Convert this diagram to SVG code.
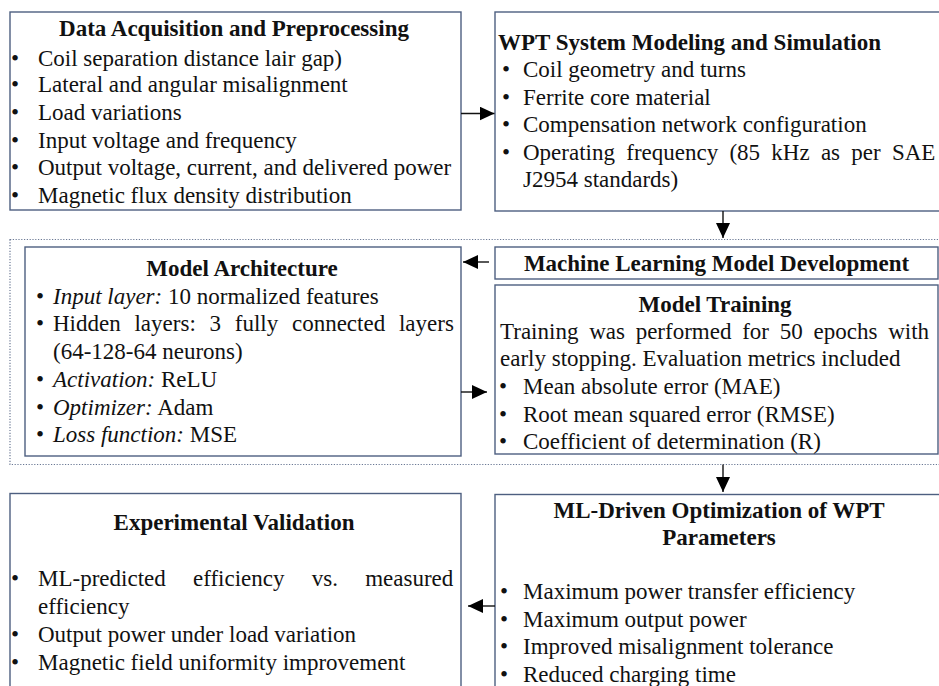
<svg xmlns="http://www.w3.org/2000/svg" width="939" height="686" viewBox="0 0 939 686">
  <style>
    .box { fill: #ffffff; stroke: #4d5f80; stroke-width: 1.4; }
    .group { fill: none; stroke: #6a7894; stroke-width: 1.2; stroke-dasharray: 1.2 1.6; }
    text { font-family: "Liberation Serif", "Times New Roman", serif; font-size: 23px; fill: #111111; }
    .h { font-weight: bold; }
    .c { text-anchor: middle; }
    .bul { text-anchor: middle; }
    .i { font-style: italic; }
    .wire { stroke: #111111; stroke-width: 1.4; fill: none; marker-end: url(#head); }
  </style>
  <defs>
    <marker id="head" markerUnits="userSpaceOnUse" markerWidth="15" markerHeight="14" refX="15" refY="7" orient="auto">
      <path d="M0,0 L15,7 L0,14 Z" fill="#000000"/>
    </marker>
  </defs>

  <rect width="939" height="686" fill="#ffffff"/>

  <!-- dotted frame around the model development stage -->
  <rect class="group" x="10" y="239.5" width="932" height="225"/>

  <g id="data-acquisition">
    <rect class="box" x="10" y="12" width="451" height="198"/>
    <text class="h c" x="234" y="36">Data Acquisition and Preprocessing</text>
    <text class="bul" x="15" y="66">•</text><text x="38" y="66">Coil separation distance lair gap)</text>
    <text class="bul" x="15" y="92">•</text><text x="38" y="92">Lateral and angular misalignment</text>
    <text class="bul" x="15" y="119.5">•</text><text x="38" y="119.5">Load variations</text>
    <text class="bul" x="15" y="147.5">•</text><text x="38" y="147.5">Input voltage and frequency</text>
    <text class="bul" x="15" y="175">•</text><text x="38" y="175">Output voltage, current, and delivered power</text>
    <text class="bul" x="15" y="203">•</text><text x="38" y="203">Magnetic flux density distribution</text>
  </g>

  <g id="wpt-modeling">
    <rect class="box" x="495" y="12" width="450" height="199"/>
    <text class="h" x="498" y="50">WPT System Modeling and Simulation</text>
    <text class="bul" x="506" y="77">•</text><text x="523" y="77">Coil geometry and turns</text>
    <text class="bul" x="506" y="104.5">•</text><text x="523" y="104.5">Ferrite core material</text>
    <text class="bul" x="506" y="132">•</text><text x="523" y="132">Compensation network configuration</text>
    <text class="bul" x="506" y="159.5">•</text><text x="523" y="159.5" word-spacing="5.5">Operating frequency (85 kHz as per SAE</text>
    <text x="523" y="187">J2954 standards)</text>
  </g>

  <g id="model-architecture">
    <rect class="box" x="25" y="247" width="436" height="209"/>
    <text class="h c" x="242" y="276">Model Architecture</text>
    <text class="bul" x="40" y="303.5">•</text><text x="53" y="303.5"><tspan class="i">Input layer:</tspan> 10 normalized features</text>
    <text class="bul" x="40" y="330.5">•</text><text x="53" y="330.5" word-spacing="8">Hidden layers: 3 fully connected layers</text>
    <text x="53" y="358.5">(64-128-64 neurons)</text>
    <text class="bul" x="40" y="387">•</text><text x="53" y="387"><tspan class="i">Activation:</tspan> ReLU</text>
    <text class="bul" x="40" y="415">•</text><text x="53" y="415"><tspan class="i">Optimizer:</tspan> Adam</text>
    <text class="bul" x="40" y="442">•</text><text x="53" y="442"><tspan class="i">Loss function:</tspan> MSE</text>
  </g>

  <g id="ml-development">
    <rect class="box" x="495" y="247" width="443" height="32"/>
    <text class="h c" x="716.5" y="271">Machine Learning Model Development</text>
  </g>

  <g id="model-training">
    <rect class="box" x="495" y="285" width="443" height="169"/>
    <text class="h c" x="715" y="312">Model Training</text>
    <text x="500" y="338.5" word-spacing="5">Training was performed for 50 epochs with</text>
    <text x="500" y="365.5">early stopping. Evaluation metrics included</text>
    <text class="bul" x="503" y="393.5">•</text><text x="523" y="393.5">Mean absolute error (MAE)</text>
    <text class="bul" x="503" y="421.5">•</text><text x="523" y="421.5">Root mean squared error (RMSE)</text>
    <text class="bul" x="503" y="449">•</text><text x="523" y="449">Coefficient of determination (R)</text>
  </g>

  <g id="experimental-validation">
    <rect class="box" x="10" y="493.5" width="451" height="200"/>
    <text class="h c" x="234" y="530">Experimental Validation</text>
    <text class="bul" x="15" y="585.5">•</text><text x="38" y="585.5" word-spacing="21.5">ML-predicted efficiency vs. measured</text>
    <text x="38" y="613.5">efficiency</text>
    <text class="bul" x="15" y="641.5">•</text><text x="38" y="641.5">Output power under load variation</text>
    <text class="bul" x="15" y="670">•</text><text x="38" y="670">Magnetic field uniformity improvement</text>
  </g>

  <g id="ml-optimization">
    <rect class="box" x="495" y="494.5" width="450" height="200"/>
    <text class="h c" x="719" y="517.5">ML-Driven Optimization of WPT</text>
    <text class="h c" x="719" y="545">Parameters</text>
    <text class="bul" x="504" y="598.5">•</text><text x="523" y="598.5">Maximum power transfer efficiency</text>
    <text class="bul" x="504" y="626.5">•</text><text x="523" y="626.5">Maximum output power</text>
    <text class="bul" x="504" y="654">•</text><text x="523" y="654">Improved misalignment tolerance</text>
    <text class="bul" x="504" y="682">•</text><text x="523" y="682">Reduced charging time</text>
  </g>

  <g id="connectors">
    <line class="wire" x1="461" y1="113.5" x2="494.5" y2="113.5"/>
    <line class="wire" x1="723" y1="211" x2="723" y2="238"/>
    <line class="wire" x1="489" y1="262" x2="463" y2="262"/>
    <line class="wire" x1="461" y1="392" x2="487" y2="392"/>
    <line class="wire" x1="723" y1="464.5" x2="723" y2="492"/>
    <line class="wire" x1="495" y1="606" x2="468" y2="606"/>
  </g>
</svg>
